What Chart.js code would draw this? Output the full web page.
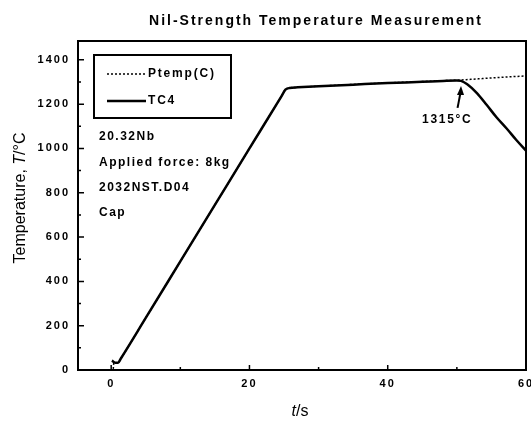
<!DOCTYPE html>
<html>
<head>
<meta charset="utf-8">
<title>Nil-Strength Temperature Measurement</title>
<script src="https://cdn.jsdelivr.net/npm/chart.js@4.4.1/dist/chart.umd.min.js"></script>
<style>
  html, body { margin: 0; padding: 0; background: #fff; }
  canvas { display: block; }
</style>
</head>
<body>
<canvas id="nilChart" width="531" height="422"></canvas>
<script>
// datos
const timeTC4 = [0.1, 0.6, 1.0, 1.4, 5, 10, 15, 20, 24.6, 25.2, 25.8, 27, 30, 35, 40, 45, 48, 50, 50.6, 51.5, 52.9, 54.3, 55.7, 57.2, 58.6, 60];
const tempTC4 = [42, 33, 33, 52, 235, 490, 745, 1000, 1234, 1265, 1273, 1276, 1281, 1288, 1295, 1301, 1305, 1307, 1305, 1290, 1250, 1197, 1142, 1090, 1038, 990];

const timePtemp = [0.3, 0.4, 0.6, 1.0, 1.4, 5, 10, 15, 20, 24.6, 25.2, 25.8, 27, 30, 35, 40, 45, 48, 50, 52, 54, 56, 58.6, 60];
const tempPtemp = [5, 35, 33, 33, 52, 235, 490, 745, 1000, 1234, 1265, 1273, 1276, 1281, 1289, 1296, 1302, 1306, 1308, 1312, 1316, 1320, 1325, 1327];

const xTicks = [0, 20, 40, 60];
const xMinorTicks = [10, 30, 50];
const yTicks = [0, 200, 400, 600, 800, 1000, 1200, 1400];
const yMinorTicks = [100, 300, 500, 700, 900, 1100, 1300];

const notas = ['20.32Nb', 'Applied force: 8kg', '2032NST.D04', 'Cap'];

const FONT = '"Liberation Sans", Arial, sans-serif';

function toPoints(xs, ys) {
    return xs.map((x, i) => ({ x: x, y: ys[i] }));
}

// dibuja marco, ticks interiores, leyenda, textos y titulos
const extrasPlugin = {
    id: 'extras',
    beforeDraw(chart) {
        chart.ctx.letterSpacing = '2px';
    },
    afterDraw(chart) {
        const ctx = chart.ctx;
        const area = chart.chartArea;
        const xs = chart.scales.x;
        const ys = chart.scales.y;
        ctx.save();
        ctx.strokeStyle = '#000';
        ctx.fillStyle = '#000';

        // marco superior y derecho
        ctx.lineWidth = 2;
        ctx.beginPath();
        ctx.moveTo(area.left, area.top);
        ctx.lineTo(area.right, area.top);
        ctx.lineTo(area.right, area.bottom);
        ctx.stroke();

        // ticks hacia dentro
        ctx.lineWidth = 1.5;
        ctx.beginPath();
        xTicks.forEach(v => { const p = xs.getPixelForValue(v); ctx.moveTo(p, area.bottom); ctx.lineTo(p, area.bottom - 5); });
        xMinorTicks.forEach(v => { const p = xs.getPixelForValue(v); ctx.moveTo(p, area.bottom); ctx.lineTo(p, area.bottom - 3); });
        yTicks.forEach(v => { const p = ys.getPixelForValue(v); ctx.moveTo(area.left, p); ctx.lineTo(area.left + 6, p); });
        yMinorTicks.forEach(v => { const p = ys.getPixelForValue(v); ctx.moveTo(area.left, p); ctx.lineTo(area.left + 3, p); });
        ctx.stroke();

        // leyenda
        const lx = area.left + 16, ly = area.top + 14;
        ctx.lineWidth = 2;
        ctx.strokeRect(lx, ly, 137, 63);
        ctx.font = 'bold 12px ' + FONT;
        ctx.letterSpacing = '1.8px';
        ctx.textBaseline = 'middle';
        ctx.textAlign = 'left';
        chart.data.datasets.forEach((ds, i) => {
            const yy = ly + 19 + i * 27;
            ctx.save();
            ctx.lineWidth = ds.borderWidth;
            ctx.setLineDash(ds.borderDash || []);
            ctx.beginPath();
            ctx.moveTo(lx + 13, yy);
            ctx.lineTo(lx + 52, yy);
            ctx.stroke();
            ctx.restore();
            ctx.fillText(ds.label, lx + 54, yy);
        });

        // notas
        ctx.letterSpacing = '1.5px';
        notas.forEach((t, i) => {
            ctx.fillText(t, area.left + 21, area.top + 96 + i * 25.3);
        });

        // flecha 1315
        const ax1 = xs.getPixelForValue(50.1), ay1 = ys.getPixelForValue(1183);
        const ax2 = xs.getPixelForValue(50.6), ay2 = ys.getPixelForValue(1282);
        ctx.lineWidth = 2;
        ctx.beginPath();
        ctx.moveTo(ax1, ay1);
        ctx.lineTo(ax2, ay2 + 4);
        ctx.stroke();
        ctx.beginPath();
        ctx.moveTo(ax2, ay2);
        ctx.lineTo(ax2 - 4, ay2 + 9);
        ctx.lineTo(ax2 + 3, ay2 + 9);
        ctx.closePath();
        ctx.fill();
        ctx.textAlign = 'center';
        ctx.letterSpacing = '1.7px';
        ctx.fillText('1315°C', xs.getPixelForValue(48.6), ys.getPixelForValue(1129));

        // titulo
        ctx.font = 'bold 14px ' + FONT;
        ctx.letterSpacing = '2px';
        ctx.fillText('Nil-Strength Temperature Measurement', 316, 21);

        // titulos de ejes con cursiva
        ctx.letterSpacing = '0px';
        ctx.textAlign = 'left';
        const partes = (arr) => arr.map(p => {
            ctx.font = (p[1] ? 'italic ' : '') + '16px ' + FONT;
            return ctx.measureText(p[0]).width;
        });
        const xt = [['t', true], ['/s', false]];
        const xw = partes(xt);
        let cx = 300 - xw.reduce((a, b) => a + b, 0) / 2;
        xt.forEach((p, i) => {
            ctx.font = (p[1] ? 'italic ' : '') + '16px ' + FONT;
            ctx.fillText(p[0], cx, 412);
            cx += xw[i];
        });

        const yt = [['Temperature, ', false], ['T', true], ['/°C', false]];
        const yw = partes(yt);
        ctx.translate(21, 198);
        ctx.rotate(-Math.PI / 2);
        let cy = -yw.reduce((a, b) => a + b, 0) / 2;
        yt.forEach((p, i) => {
            ctx.font = (p[1] ? 'italic ' : '') + '16px ' + FONT;
            ctx.fillText(p[0], cy, 0);
            cy += yw[i];
        });
        ctx.restore();
    }
};

const tickFont = { family: FONT, size: 11, weight: 'bold' };

new Chart(document.getElementById('nilChart').getContext('2d'), {
    type: 'line',
    data: {
        datasets: [{
            label: 'Ptemp(C)',
            data: toPoints(timePtemp, tempPtemp),
            borderColor: '#000',
            borderWidth: 1.5,
            borderDash: [2, 2],
            pointRadius: 0,
            cubicInterpolationMode: 'monotone',
            fill: false
        }, {
            label: 'TC4',
            data: toPoints(timeTC4, tempTC4),
            borderColor: '#000',
            borderWidth: 2.5,
            pointRadius: 0,
            cubicInterpolationMode: 'monotone',
            fill: false
        }]
    },
    options: {
        responsive: false,
        animation: false,
        layout: { padding: { top: 41, right: 5, left: 0, bottom: 0 } },
        plugins: {
            legend: { display: false },
            title: { display: false },
            tooltip: { enabled: false }
        },
        scales: {
            x: {
                type: 'linear',
                min: -4.8,
                max: 60,
                afterBuildTicks: s => { s.ticks = xTicks.map(v => ({ value: v })); },
                afterFit: s => { s.height = 52; s.paddingLeft = 0; s.paddingRight = 0; },
                grid: { display: false, drawTicks: false },
                border: { display: true, color: '#000', width: 2 },
                ticks: { padding: 7, color: '#000', font: tickFont, maxRotation: 0, callback: v => String(v) }
            },
            y: {
                type: 'linear',
                min: 0,
                max: 1485,
                afterBuildTicks: s => { s.ticks = yTicks.map(v => ({ value: v })); },
                afterFit: s => { s.width = 78; s.paddingTop = 0; s.paddingBottom = 0; },
                grid: { display: false, drawTicks: false },
                border: { display: true, color: '#000', width: 2 },
                ticks: { padding: 8, color: '#000', font: tickFont, callback: v => String(v) }
            }
        }
    },
    plugins: [extrasPlugin]
});
</script>
</body>
</html>
